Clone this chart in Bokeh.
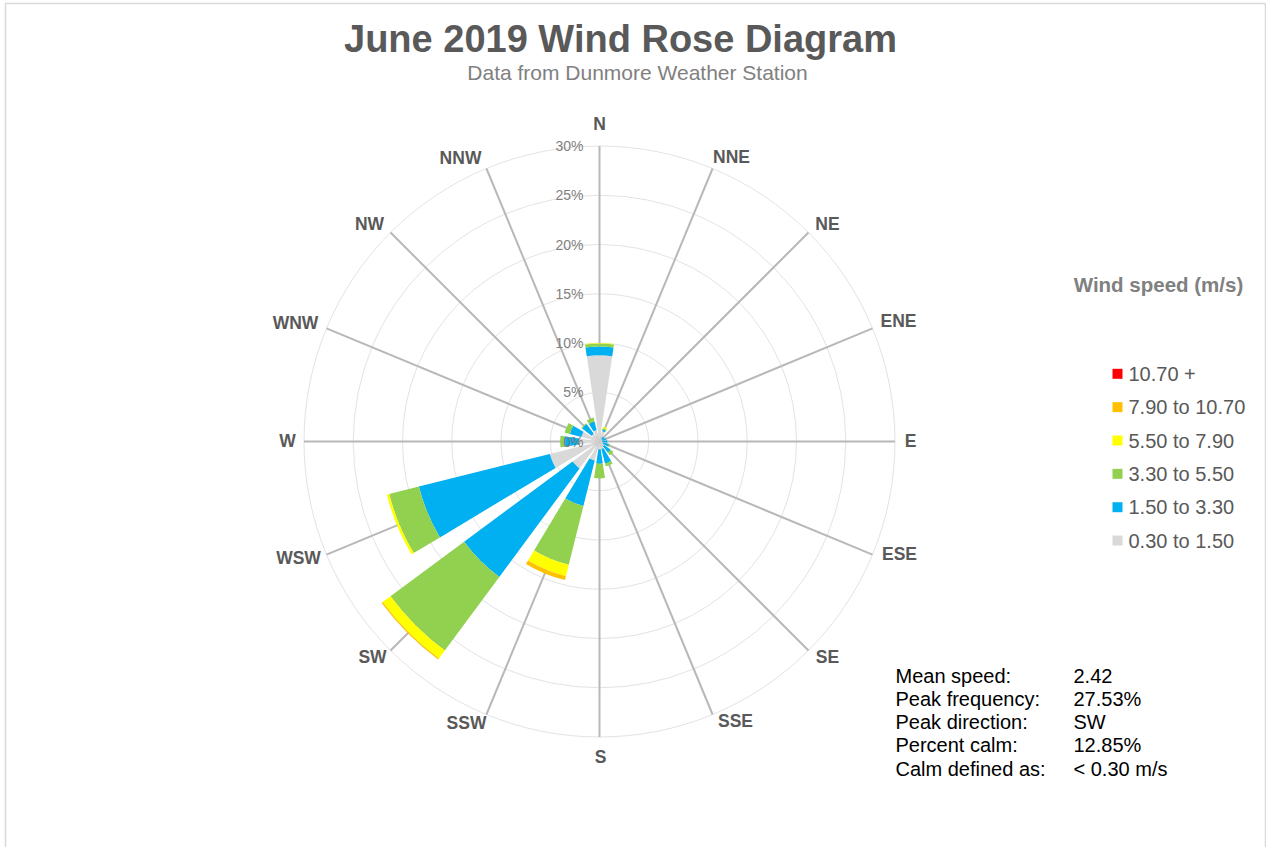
import numpy as np
from bokeh.plotting import figure
from bokeh.models import ColumnDataSource, Range1d
from bokeh.core.properties import value
from bokeh.embed import file_html
from bokeh.resources import INLINE

# ---- data -------------------------------------------------------------
directions = ["N", "NNE", "NE", "ENE", "E", "ESE", "SE", "SSE",
              "S", "SSW", "SW", "WSW", "W", "WNW", "NW", "NNW"]
bearings = [0.0, 22.5, 45.0, 67.5, 90.0, 112.5, 135.0, 157.5,
            180.0, 202.5, 225.0, 247.5, 270.0, 292.5, 315.0, 337.5]

speed_bins = ["0.30 to 1.50", "1.50 to 3.30", "3.30 to 5.50",
              "5.50 to 7.90", "7.90 to 10.70", "10.70 +"]
bin_colors = ["#D9D9D9", "#00B0F0", "#92D050", "#FFFF00", "#FFC000", "#FF0000"]

# frequency (%) of each speed class, per direction
freq_0_30_1_50 = [8.75, 1.10, 0.30, 0.30, 0.30, 0.40, 0.60, 0.80,
                  0.80, 2.00, 3.40, 5.20, 2.10, 1.90, 1.00, 1.20]
freq_1_50_3_30 = [0.90, 0.15, 0.30, 0.40, 0.50, 0.60, 0.80, 1.50,
                  1.45, 4.75, 13.70, 13.70, 1.50, 1.20, 1.20, 0.90]
freq_3_30_5_50 = [0.30, 0.15, 0.00, 0.00, 0.00, 0.10, 0.35, 0.30,
                  1.50, 6.15, 9.30, 3.10, 0.40, 0.55, 0.10, 0.40]
freq_5_50_7_90 = [0.05, 0.15, 0.00, 0.00, 0.00, 0.00, 0.00, 0.00,
                  0.00, 1.20, 1.00, 0.25, 0.00, 0.00, 0.00, 0.00]
freq_7_90_10_70 = [0.00, 0.00, 0.00, 0.00, 0.00, 0.00, 0.00, 0.00,
                   0.00, 0.40, 0.13, 0.00, 0.00, 0.00, 0.00, 0.00]
freq_10_70_up = [0.00] * 16

radial_ticks = [0, 5, 10, 15, 20, 25, 30]
radial_tick_labels = ["0%", "5%", "10%", "15%", "20%", "25%", "30%"]

stat_names = ["Mean speed:", "Peak frequency:", "Peak direction:",
              "Percent calm:", "Calm defined as:"]
stat_values = ["2.42", "27.53%", "SW", "12.85%", "< 0.30 m/s"]

# ---- canvas geometry ------------------------------------------------------
W, H = 1266, 847
CX, CY = 599, 441          # rose centre on the page (pixels from top-left)
SCALE = 9.85               # pixels per 1 % of frequency
FONT = value("Liberation Sans")

# compass label centres, in pixels relative to the rose centre (x right, y down)
LABEL_OFFSETS = [(0, -318), (132, -285), (228, -218), (299, -121),
                 (311, -1), (300, 112), (228, 215), (136, 279),
                 (1, 315), (-133, 281), (-227, 215), (-301, 116),
                 (-312, -1), (-304, -119), (-230, -218), (-139, -284)]


def page(x, y):
    """Page pixel position -> data coordinates (percent units)."""
    return (x - CX) / SCALE, (CY - y) / SCALE


p = figure(width=W, height=H,
           x_range=Range1d(-CX / SCALE, (W - CX) / SCALE),
           y_range=Range1d(-(H - CY) / SCALE, CY / SCALE),
           x_axis_type=None, y_axis_type=None,
           output_backend="svg", toolbar_location=None, min_border=0)
p.grid.visible = False
p.outline_line_color = None
p.background_fill_color = "white"
p.border_fill_color = "white"

# light frame around the chart area
fx, fy = zip(*[page(5, H + 2), page(5, 3), page(W - 1, 3), page(W - 1, H + 2)])
p.line(list(fx), list(fy), line_color="#D9D9D9", line_width=1.5)

# ---- polar grid -------------------------------------------------------------
rmax = radial_ticks[-1]
p.circle(x=[0] * (len(radial_ticks) - 1), y=[0] * (len(radial_ticks) - 1),
         radius=radial_ticks[1:], fill_color=None,
         line_color="#E3E3E3", line_width=1)

b_rad = np.deg2rad(bearings)
p.segment(x0=[0] * 16, y0=[0] * 16,
          x1=list(rmax * np.sin(b_rad)), y1=list(rmax * np.cos(b_rad)),
          line_color="#B8B8B8", line_width=2)

# ---- stacked wedges -------------------------------------------------------------
series = [freq_0_30_1_50, freq_1_50_3_30, freq_3_30_5_50,
          freq_5_50_7_90, freq_7_90_10_70, freq_10_70_up]
half_width = np.deg2rad(8.5)
math_angle = np.deg2rad(90.0 - np.array(bearings))
base = np.zeros(16)
for vals, color in zip(series, bin_colors):
    vals = np.array(vals)
    top = base + vals
    keep = vals > 0
    src = ColumnDataSource(dict(
        inner=list(base[keep]), outer=list(top[keep]),
        start=list(math_angle[keep] - half_width),
        end=list(math_angle[keep] + half_width),
        x=[0] * int(keep.sum()), y=[0] * int(keep.sum())))
    p.annular_wedge(x="x", y="y", inner_radius="inner", outer_radius="outer",
                    start_angle="start", end_angle="end", source=src,
                    fill_color=color, line_color=None)
    base = top

# ---- radial tick labels ---------------------------------------------------------
p.text(x=[-16 / SCALE] * len(radial_ticks), y=radial_ticks,
       text=radial_tick_labels, text_font=FONT, text_font_size="14px",
       text_color="#7F7F7F", text_align="right", text_baseline="middle")

# ---- compass labels -------------------------------------------------------------
p.text(x=[dx / SCALE for dx, dy in LABEL_OFFSETS],
       y=[-dy / SCALE for dx, dy in LABEL_OFFSETS],
       text=directions, text_font=FONT, text_font_size="17.5px",
       text_font_style="bold", text_color="#595959",
       text_align="center", text_baseline="middle")

# ---- titles -------------------------------------------------------------
tx, ty = page(620, 38)
p.text(x=[tx], y=[ty], text=["June 2019 Wind Rose Diagram"], text_font=FONT,
       text_font_size="38px", text_font_style="bold", text_color="#595959",
       text_align="center", text_baseline="middle")
sx, sy = page(637, 72)
p.text(x=[sx], y=[sy], text=["Data from Dunmore Weather Station"], text_font=FONT,
       text_font_size="21px", text_color="#808080",
       text_align="center", text_baseline="middle")

# ---- legend -------------------------------------------------------------
lx, ly = page(1158, 284)
p.text(x=[lx], y=[ly], text=["Wind speed (m/s)"], text_font=FONT,
       text_font_size="20.5px", text_font_style="bold", text_color="#808080",
       text_align="center", text_baseline="middle")
rows = [page(1117, 373.3 + i * 33.35) for i in range(len(speed_bins))]
order = list(range(len(speed_bins)))[::-1]
p.scatter(x=[r[0] for r in rows], y=[r[1] for r in rows], marker="square",
          size=10, fill_color=[bin_colors[i] for i in order], line_color=None)
p.text(x=[page(1128, 0)[0]] * len(rows), y=[r[1] for r in rows],
       text=[speed_bins[i] for i in order], text_font=FONT,
       text_font_size="20px", text_color="#595959",
       text_align="left", text_baseline="middle")

# ---- summary statistics -----------------------------------------------------------
stat_y = [page(0, 675 + i * 23.3)[1] for i in range(len(stat_names))]
p.text(x=[page(895, 0)[0]] * len(stat_names), y=stat_y, text=stat_names,
       text_font=FONT, text_font_size="20px", text_color="#000000",
       text_align="left", text_baseline="middle")
p.text(x=[page(1073, 0)[0]] * len(stat_values), y=stat_y, text=stat_values,
       text_font=FONT, text_font_size="20px", text_color="#000000",
       text_align="left", text_baseline="middle")

open("out.html", "w").write(file_html(p, INLINE))
